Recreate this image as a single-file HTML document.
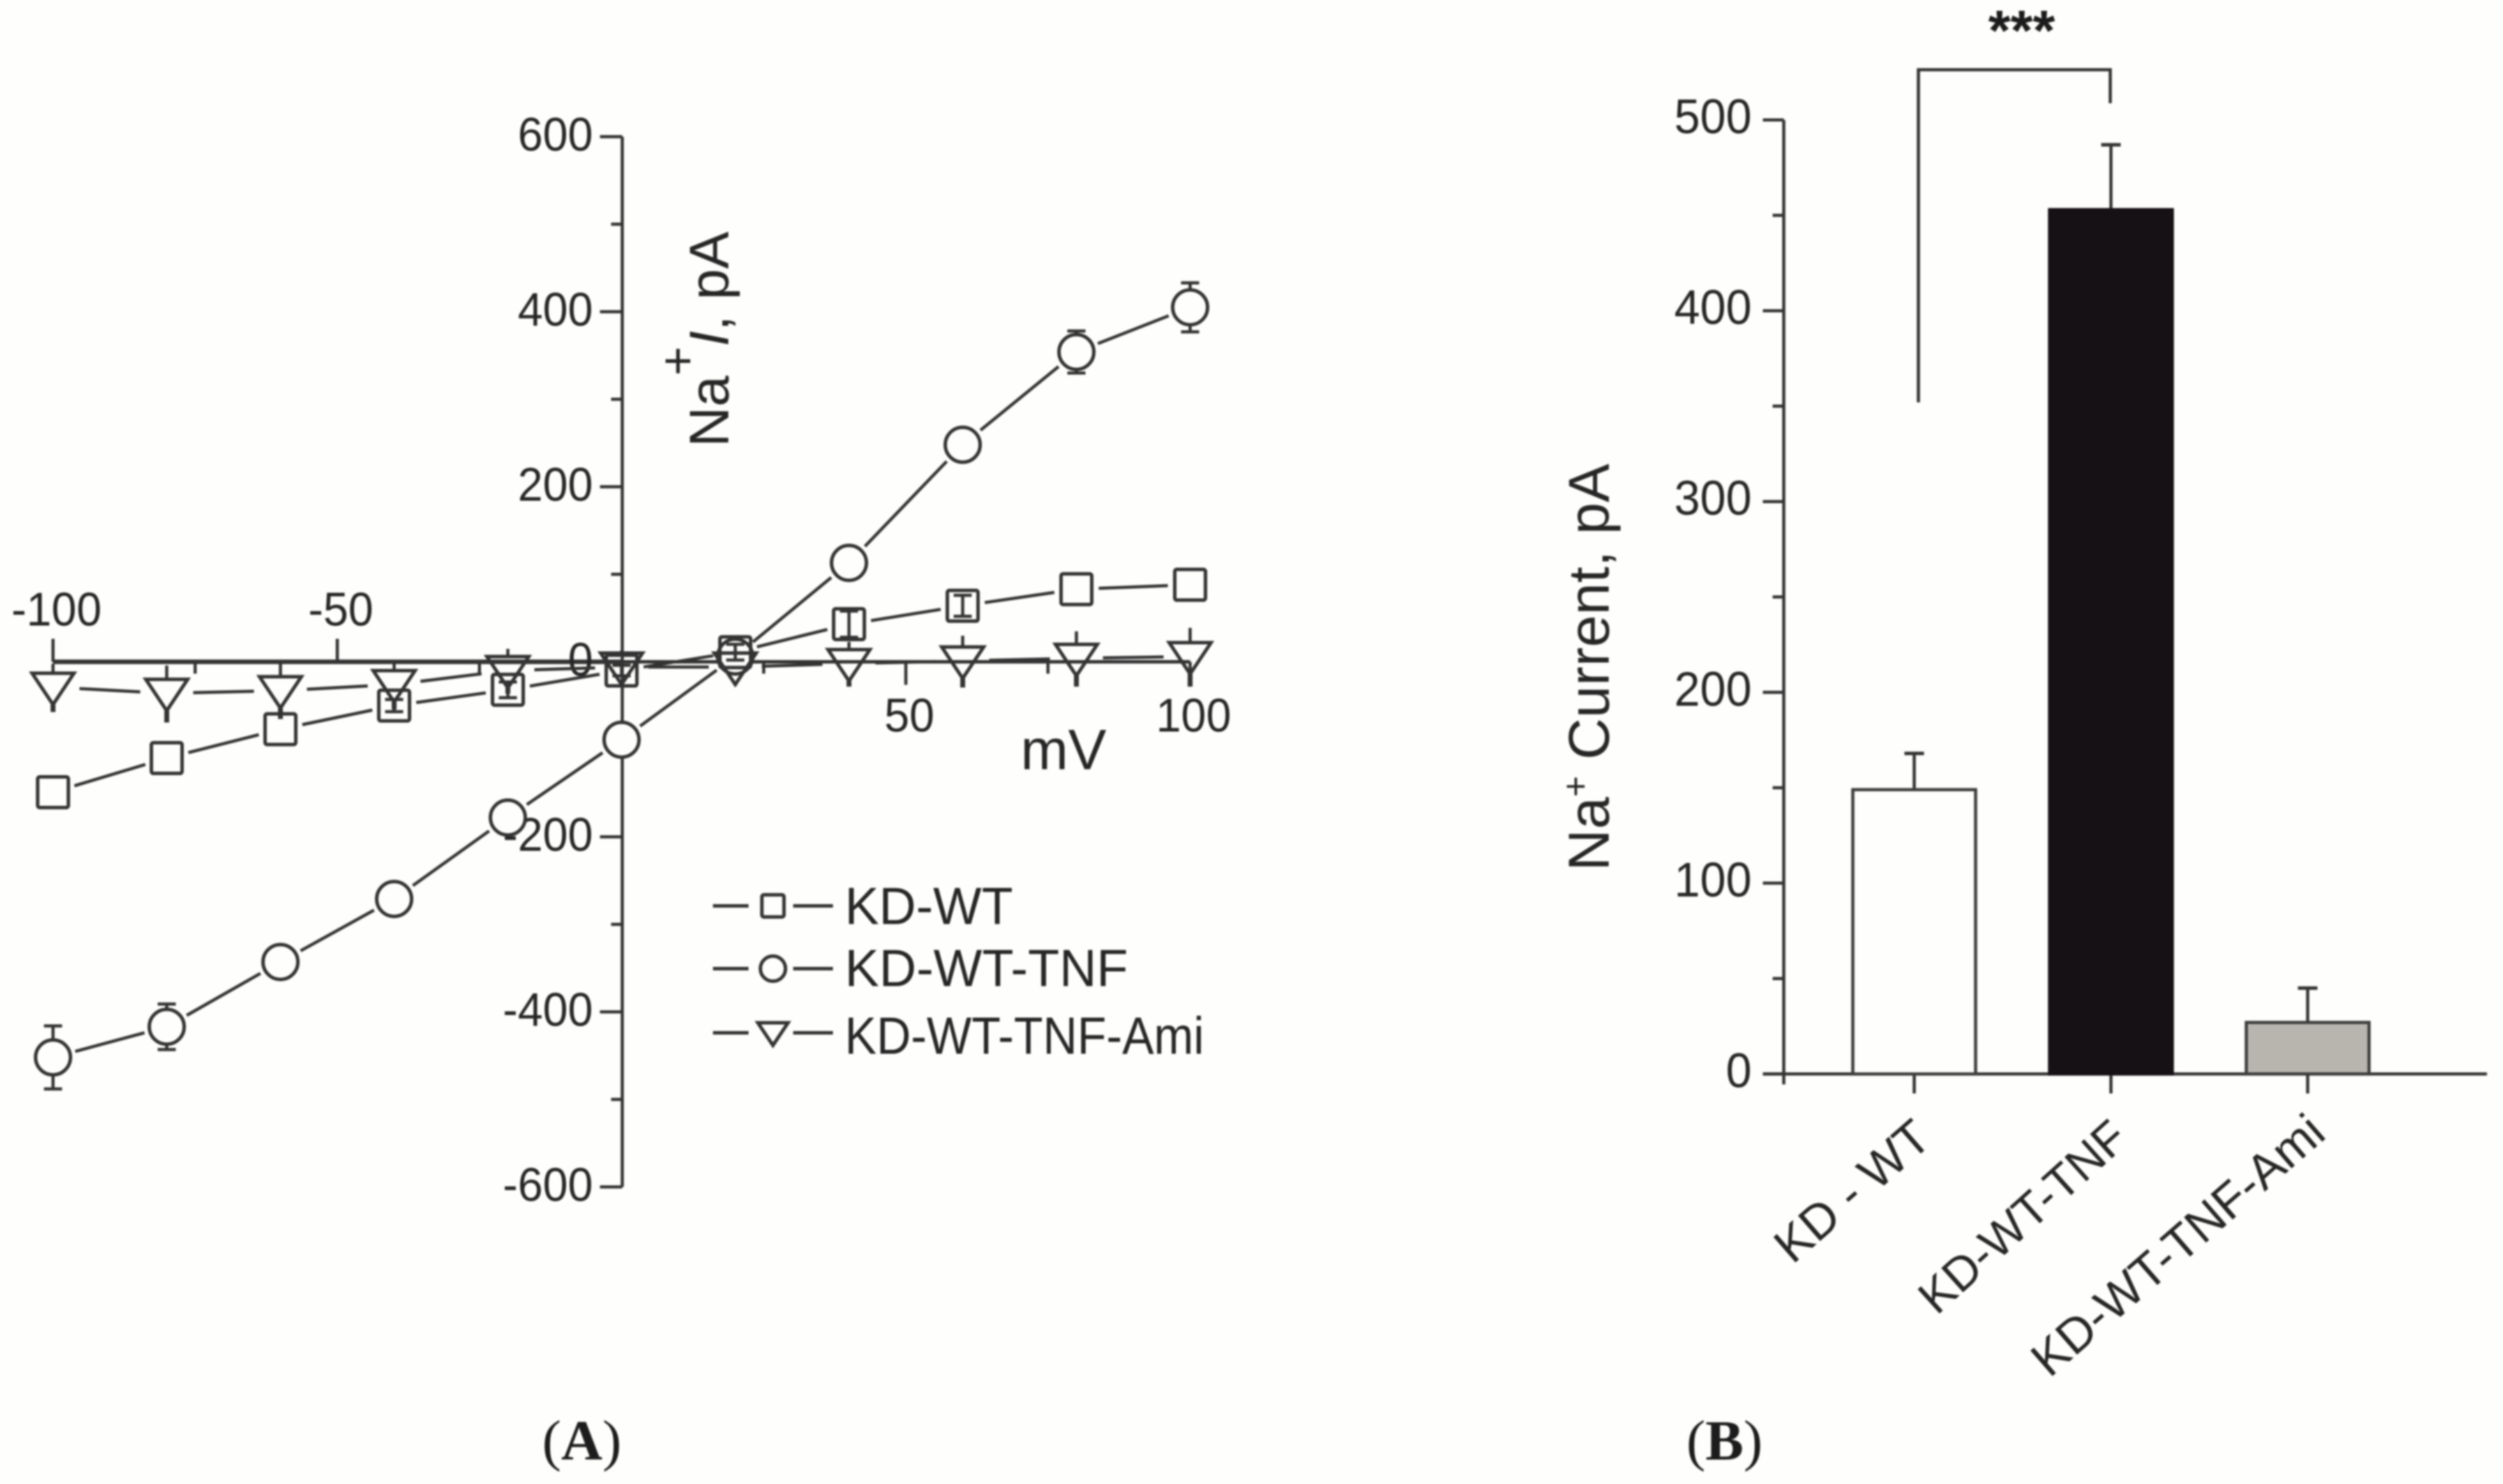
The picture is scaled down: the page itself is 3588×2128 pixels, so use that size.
<!DOCTYPE html>
<html>
<head>
<meta charset="utf-8">
<title>Na+ current charts</title>
<style>
html,body{margin:0;padding:0;background:#fefefc;}
#figure{display:block;width:3588px;height:2128px;filter:blur(1.2px);}
text{font-family:"Liberation Sans",sans-serif;fill:#262626;}
.serif{font-family:"Liberation Serif",serif;fill:#1c1c1c;}
</style>
</head>
<body>
<svg id="figure" xmlns="http://www.w3.org/2000/svg" width="3588" height="2128" viewBox="0 0 3588 2128">
  <rect width="3588" height="2128" fill="#fefefc"/>
  <g id="panelA"></g>
  <g id="panelB"></g>

  <text transform="translate(1044,641) rotate(-90)" font-size="80">Na<tspan dy="-48" font-size="72">+</tspan><tspan dy="48" font-style="italic">I</tspan>, pA</text>
  <text x="1463" y="1103" font-size="82">mV</text>

  <text x="1211" y="1325" font-size="75" textLength="241" lengthAdjust="spacingAndGlyphs">KD-WT</text>
  <text x="1211" y="1414" font-size="75" textLength="406" lengthAdjust="spacingAndGlyphs">KD-WT-TNF</text>
  <text x="1211" y="1511" font-size="75" textLength="515" lengthAdjust="spacingAndGlyphs">KD-WT-TNF-Ami</text>

  <text class="serif" x="834" y="2093" font-size="82" text-anchor="middle">(<tspan font-weight="bold">A</tspan>)</text>
  <text class="serif" x="2472" y="2093" font-size="82" text-anchor="middle">(<tspan font-weight="bold">B</tspan>)</text>

  <text transform="translate(2306,1249) rotate(-90)" font-size="83">Na<tspan dy="-30" font-size="52">+</tspan><tspan dy="30"> Current, pA</tspan></text>
  <text x="2898" y="72" font-size="82" font-weight="bold" text-anchor="middle" style="fill:#1c1c1c">***</text>
  <text transform="translate(2772,1638) rotate(-41)" font-size="70" text-anchor="end">KD - WT</text>
  <text transform="translate(3054,1637) rotate(-42)" font-size="68" text-anchor="end">KD-WT-TNF</text>
  <text transform="translate(3337,1630) rotate(-41)" font-size="70" text-anchor="end">KD-WT-TNF-Ami</text>
</svg>

<script>
// Panel A data
var voltages = [-100,-80,-60,-40,-20,0,20,40,60,80,100];
var kdWt = [-149,-110,-77,-50,-32,-10,11,43,64,83,88];
var kdWtErr = [0,0,0,7,9,6,9,15,12,0,0];
var kdWtTnf = [-452,-417,-343,-271,-178,-89,6,113,248,354,405];
var kdWtTnfErr = [36,26,10,8,8,10,8,8,8,24,28];
var kdWtTnfAmi = [-29,-36,-33,-26,-10,-6,-6,-2,1,4,6];
var kdWtTnfAmiErr = [22,27,26,22,20,14,14,20,24,26,28];
var xTickLabels = [-100,-50,50,100];
var xMinorTicks = [-75,-25,25,75];
var yTickLabels = [600,400,200,0,-200,-400,-600];
var yMinorTicks = [500,300,100,-100,-300,-500];

// Panel B data
var barCategories = ["KD - WT","KD-WT-TNF","KD-WT-TNF-Ami"];
var barValues = [149,453,27];
var barErrors = [19,34,18];
var barTicks = [0,100,200,300,400,500];
var barMinorTicks = [50,150,250,350,450];

var INK = "#333333";
var BG = "#fefefc";
var NS = "http://www.w3.org/2000/svg";

function xA(v){ return 891 + 8.15 * v; }
function yA(v){ return 949 - 1.255 * v; }
function yB(v){ return 1540 - 2.736 * v; }
function xB(i){ return 2744 + i * 282; }

function make(tag, parent, props){
  var el = document.createElementNS(NS, tag);
  for (var k in props) el.setAttribute(k, props[k]);
  parent.appendChild(el);
  return el;
}
function seg(parent, x1, y1, x2, y2, w, name){
  var el = make("line", parent, {x1:x1, y1:y1, x2:x2, y2:y2, stroke:INK, "stroke-width":w});
  
  
  return el;
}
function label(parent, x, y, size, anchor, str, name){
  var el = make("text", parent, {x:x, y:y, "font-size":size, "text-anchor":anchor});
  el.textContent = str;
  
  
  el.setAttribute('textLength', el.getComputedTextLength() * 0.95);
  el.setAttribute('lengthAdjust', 'spacingAndGlyphs');
  return el;
}
function marker(parent, kind, x, y, s, name){
  var el;
  if (kind === "square") {
    el = make("rect", parent, {x:x-22*s, y:y-22*s, width:44*s, height:44*s, rx:3, fill:"none", stroke:INK, "stroke-width":5});
  } else if (kind === "circle") {
    el = make("circle", parent, {cx:x, cy:y, r:25*s, fill:BG, stroke:INK, "stroke-width":5});
  } else {
    var pts = (x-30*s)+","+(y-20*s)+" "+(x+30*s)+","+(y-20*s)+" "+x+","+(y+25*s);
    el = make("polygon", parent, {points:pts, fill:"none", stroke:INK, "stroke-width":5});
  }
  
  
  return el;
}

var A = document.getElementById("panelA");
var B = document.getElementById("panelB");

// Panel A axes
seg(A, xA(-100), yA(0), xA(0), yA(0), 6.5, "x-axis-negative");
seg(A, xA(0), yA(0), xA(100), yA(0), 5, "x-axis-positive");
seg(A, xA(0)+1, yA(600), xA(0)+1, yA(-600), 4.5, "y-axis");
xTickLabels.forEach(function(v){
  var up = v < 0;
  seg(A, xA(v), yA(0), xA(v), yA(0) + (up ? -33 : 33), 4.5, "x-tick");
  label(A, xA(v) + 5, up ? 897 : 1049, 68, "middle", String(v), "x-tick-label");
});
xMinorTicks.forEach(function(v){
  seg(A, xA(v), yA(0), xA(v), yA(0) + 17, 4.5, "x-minor-tick");
});
yTickLabels.forEach(function(v){
  seg(A, xA(0)-31, yA(v), xA(0)+1, yA(v), 4.5, "y-tick");
  label(A, 850, yA(v) + 20, 68, "end", String(v), "y-tick-label");
});
yMinorTicks.forEach(function(v){
  seg(A, xA(0)-15, yA(v), xA(0)+1, yA(v), 4.5, "y-minor-tick");
});

// Panel A series
function drawSeries(values, errors, kind, gap, name){
  var g = make("g", A, {});
  
  
  for (var i = 0; i < voltages.length - 1; i++) {
    var x1 = xA(voltages[i]), y1 = yA(values[i]);
    var x2 = xA(voltages[i+1]), y2 = yA(values[i+1]);
    var d = Math.sqrt((x2-x1)*(x2-x1)+(y2-y1)*(y2-y1));
    if (d > 2 * gap) {
      var ux = (x2-x1)/d, uy = (y2-y1)/d;
      seg(g, x1+ux*gap, y1+uy*gap, x2-ux*gap, y2-uy*gap, 4.5, "series-line-segment");
    }
  }
  for (var j = 0; j < voltages.length; j++) {
    var x = xA(voltages[j]), y = yA(values[j]), e = errors[j] * 1.255;
    if (kind === "triangle") {
      seg(g, x, y-e-6, x, y-20, 4.5, "error-bar");
      seg(g, x, y+25, x, y+e+8, 7, "error-bar");
    } else if (e > 0) {
      seg(g, x, y-e, x, y+e, 4.5, "error-bar");
      seg(g, x-13, y-e, x+13, y-e, 4.5, "error-cap");
      seg(g, x-13, y+e, x+13, y+e, 4.5, "error-cap");
    }
    marker(g, kind, x, y, 1, "data-point");
  }
}
drawSeries(kdWtTnf, kdWtTnfErr, "circle", 33, "series-kd-wt-tnf");
drawSeries(kdWt, kdWtErr, "square", 32, "series-kd-wt");
drawSeries(kdWtTnfAmi, kdWtTnfAmiErr, "triangle", 38, "series-kd-wt-tnf-ami");

// Panel A legend
var legendKinds = ["square","circle","triangle"];
var legendRows = [1299,1389,1481];
legendKinds.forEach(function(kind, i){
  seg(A, 1022, legendRows[i], 1073, legendRows[i], 5, "legend-line");
  seg(A, 1137, legendRows[i], 1194, legendRows[i], 5, "legend-line");
  marker(A, kind, 1108, legendRows[i], 0.72, "legend-marker");
});

// Panel B axes
seg(B, 2557, yB(500), 2557, 1555, 4.5, "bar-y-axis");
seg(B, 2527, yB(0), 3565, yB(0), 4.5, "bar-x-axis");
barTicks.forEach(function(v){
  seg(B, 2527, yB(v), 2557, yB(v), 4.5, "bar-y-tick");
  label(B, 2511, yB(v) + 19, 70, "end", String(v), "bar-y-tick-label");
});
barMinorTicks.forEach(function(v){
  seg(B, 2541, yB(v), 2557, yB(v), 4.5, "bar-y-minor-tick");
});

// Panel B bars
var barFills = ["#fefefc","#151114","#b8b4ae"];
barCategories.forEach(function(cat, i){
  var cx = xB(i), v = barValues[i], top = yB(v), errTop = yB(v + barErrors[i]);
  seg(B, cx, errTop, cx, top, 4.5, "bar-error-bar");
  seg(B, cx-14, errTop, cx+14, errTop, 5, "bar-error-cap");
  seg(B, cx, yB(0), cx, 1568, 4.5, "bar-x-tick");
  var r = make("rect", B, {x:cx-88, y:top, width:176, height:yB(0)-top, fill:barFills[i], stroke:i === 1 ? "#151114" : "#3c3c3c", "stroke-width":4.5});
  
  
});

// Significance bracket
var br = make("polyline", B, {points:"2750,577 2750,100 3025,100 3025,148", fill:"none", stroke:INK, "stroke-width":4.5});


</script>
</body>
</html>
